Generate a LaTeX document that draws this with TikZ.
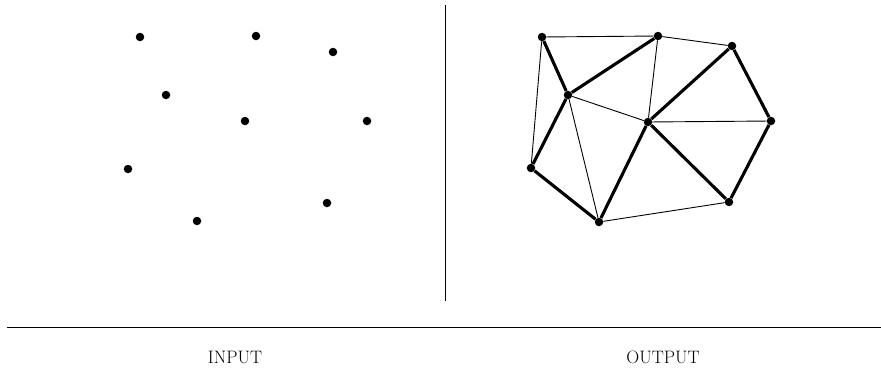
\documentclass[tikz,border=0pt]{standalone}
\begin{document}
\begin{tikzpicture}[x=1pt,y=-1pt,
  pt/.style={circle,fill=black,inner sep=0pt,minimum size=8.5pt},
  thin edge/.style={line width=0.9pt},
  thick edge/.style={line width=3.1pt},
  sep/.style={line width=1.3pt},
  vsep/.style={line width=1pt},
  lbl/.style={font=\fontsize{18}{18}\selectfont}]
\useasboundingbox (0,0) rectangle (881,375);
% input points
\node[pt] (a) at (140,37) {};
\node[pt] (b) at (256,36) {};
\node[pt] (c) at (333,52) {};
\node[pt] (d) at (166,95) {};
\node[pt] (e) at (245,121) {};
\node[pt] (f) at (367,121) {};
\node[pt] (g) at (128,169) {};
\node[pt] (h) at (327,203) {};
\node[pt] (i) at (197,221) {};
% output points
\node[pt] (p1) at (542,37) {};
\node[pt] (p2) at (658,36) {};
\node[pt] (p3) at (732,46) {};
\node[pt] (p4) at (568,95) {};
\node[pt] (p5) at (648,122) {};
\node[pt] (p6) at (771,121) {};
\node[pt] (p7) at (531,168) {};
\node[pt] (p8) at (729,202) {};
\node[pt] (p9) at (599,222) {};
% thin edges
\draw[thin edge] (p1) -- (p2);
\draw[thin edge] (p1) -- (p7);
\draw[thin edge] (p2) -- (p3);
\draw[thin edge] (p2) -- (p5);
\draw[thin edge] (p4) -- (p5);
\draw[thin edge] (p4) -- (p9);
\draw[thin edge] (p5) -- (p6);
\draw[thin edge] (p9) -- (p8);
% thick edges
\draw[thick edge] (p1) -- (p4);
\draw[thick edge] (p4) -- (p2);
\draw[thick edge] (p4) -- (p7);
\draw[thick edge] (p7) -- (p9);
\draw[thick edge] (p9) -- (p5);
\draw[thick edge] (p5) -- (p3);
\draw[thick edge] (p3) -- (p6);
\draw[thick edge] (p6) -- (p8);
\draw[thick edge] (p8) -- (p5);
% separators
\coordinate (vt) at (445.5,5);
\coordinate (vb) at (445.5,301);
\coordinate (hl) at (7,327.5);
\coordinate (hr) at (881,327.5);
\draw[vsep] (vt) -- (vb);
\draw[sep] (hl) -- (hr);
% labels
\node[lbl] (lin) at (235,357) {INPUT};
\node[lbl] (lout) at (663,357) {OUTPUT};
\end{tikzpicture}
\end{document}
